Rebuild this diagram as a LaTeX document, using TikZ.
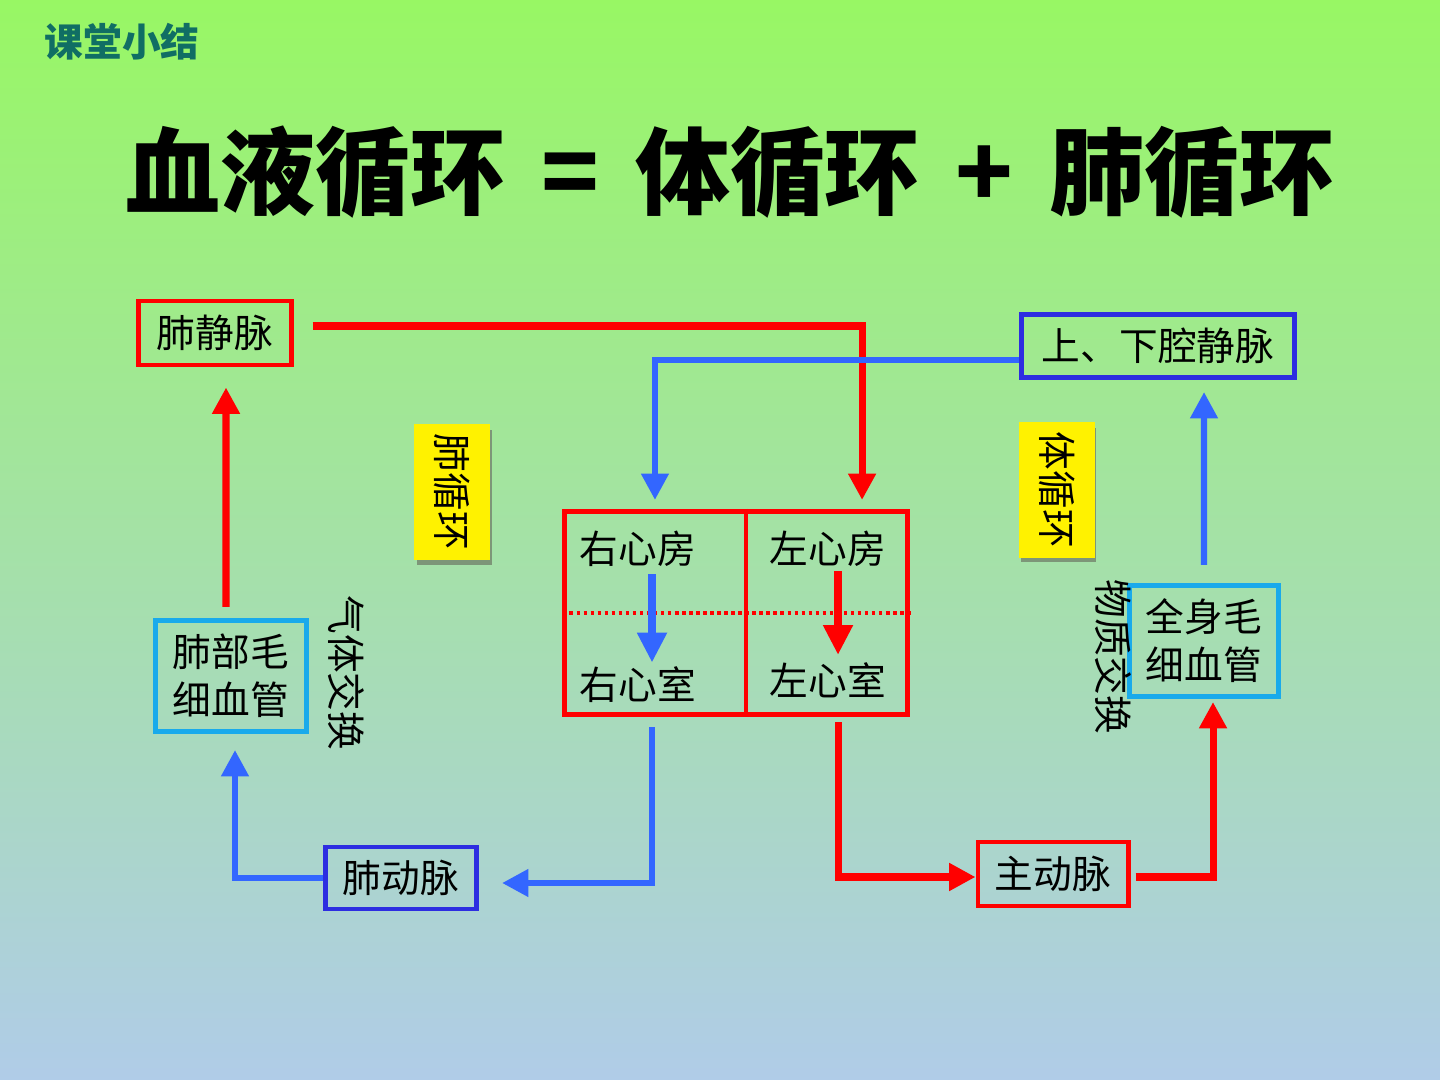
\documentclass[tikz,border=0pt]{standalone}
\usepackage{fontspec}
\newfontfamily\cjk{Noto Sans CJK SC}
\usetikzlibrary{arrows.meta}
\definecolor{bgtop}{RGB}{152,247,100}
\definecolor{bgbot}{RGB}{176,204,232}
\definecolor{arrred}{RGB}{255,0,0}
\definecolor{arrblue}{RGB}{51,102,255}
\definecolor{boxblue}{RGB}{45,45,225}
\definecolor{boxcyan}{RGB}{25,170,235}
\definecolor{teal}{RGB}{16,110,100}
\definecolor{shadowc}{RGB}{125,150,120}
\tikzset{
  txt/.style={font=\cjk\fontsize{11}{13.6}\selectfont, align=center, text=black},
  boxbase/.style={txt, line width=1.4pt, inner sep=0pt},
  redbox/.style={boxbase, draw=arrred},
  bluebox/.style={boxbase, draw=boxblue},
  cyanbox/.style={boxbase, draw=boxcyan},
  yel/.style={txt, fill=yellow, inner sep=0pt, rotate=-90, minimum width=1.36cm, minimum height=0.75cm},
  redarr/.style={draw=arrred, line width=2pt, -{Triangle[width=7.5pt,length=7.5pt]}},
  bluearr/.style={draw=arrblue, line width=1.8pt, -{Triangle[width=7.5pt,length=7.5pt]}},
  bigtip/.style={line width=2.4pt, -{Triangle[width=8pt,length=8.5pt]}},
  vtext/.style={txt, rotate=-90, inner sep=0pt},
}
\begin{document}
\begin{tikzpicture}[x=0.01cm, y=-0.01cm]
\useasboundingbox (0,0) rectangle (1440,1080);
\shade[top color=bgtop, bottom color=bgbot] (0,0) rectangle (1440,1080);

\node[font=\cjk\bfseries\fontsize{11}{13}\selectfont, text=teal] (head) at (122,42) {课堂小结};
\node[font=\cjk\bfseries\fontsize{27}{30}\selectfont, text=black] (title) at (730,172)
  {血液循环\hspace{0.38em}=\hspace{0.38em}体循环\hspace{0.38em}+\hspace{0.38em}肺循环};

% boxes
\node[redbox, minimum width=1.52cm, minimum height=0.64cm] (fjm) at (215,333) {肺静脉};
\node[bluebox, minimum width=2.73cm, minimum height=0.63cm] (qj) at (1158,346) {上、下腔静脉};
\node[cyanbox, minimum width=1.50cm, minimum height=1.11cm] (fmx) at (231,676) {肺部毛\\细血管};
\node[cyanbox, minimum width=1.49cm, minimum height=1.11cm] (qmx) at (1204,641) {全身毛\\细血管};
\node[bluebox, minimum width=1.51cm, minimum height=0.62cm] (fdm) at (401,878) {肺动脉};
\node[redbox, minimum width=1.50cm, minimum height=0.64cm] (zdm) at (1053,874) {主动脉};

% heart
\node[draw=arrred, line width=1.4pt, minimum width=3.42cm, minimum height=2.03cm, inner sep=0pt] (heart) at (736,613) {};
\draw[arrred, line width=1.4pt] ([xshift=0.1cm]heart.north) -- ([xshift=0.1cm]heart.south);
\draw[arrred, line width=1.2pt, dash pattern=on 1pt off 1pt] (heart.west) -- ([xshift=0.03cm]heart.east);
\node[txt] (yxf) at (638,549) {右心房};
\node[txt] (zxf) at (828,549) {左心房};
\node[txt] (yxs) at (638,685) {右心室};
\node[txt] (zxs) at (828,680) {左心室};

% yellow labels
\fill[shadowc] (417,430) rectangle (492,565);
\node[yel] (lblf) at (452,492) {肺循环};
\fill[shadowc] (1021,428) rectangle (1096,562);
\node[yel] (lblt) at (1057,490) {体循环};

\node[vtext] (gas) at (346,673) {气体交换};
\node[vtext] (sub) at (1113,657) {物质交换};

% connectors
\draw[redarr] ([xshift=0.19cm,yshift=0.07cm]fjm.east) -| ([xshift=1.26cm,yshift=0.09cm]heart.north);
\draw[bluearr] ([yshift=-0.14cm]qj.west) -| ([xshift=-0.81cm,yshift=0.09cm]heart.north);
\draw[bluearr, bigtip] ([xshift=0.14cm,yshift=0.05cm]yxf.south) -- ([xshift=0.14cm,yshift=-0.08cm]yxs.north);
\draw[redarr, bigtip] ([xshift=0.10cm,yshift=0.08cm]zxf.south) -- ([xshift=0.10cm,yshift=-0.05cm]zxs.north);
\draw[bluearr] ([xshift=-0.84cm,yshift=-0.1cm]heart.south) |- ([xshift=0.23cm,yshift=-0.05cm]fdm.east);
\draw[bluearr] (fdm.west) -| ([xshift=0.04cm,yshift=-0.16cm]fmx.south);
\draw[redarr] ([xshift=-0.05cm,yshift=0.11cm]fmx.north) -- ([xshift=0.11cm,yshift=-0.2cm]fjm.south);
\draw[redarr] ([xshift=1.02cm,yshift=-0.05cm]heart.south) |- ([yshift=-0.03cm]zdm.west);
\draw[redarr] ([xshift=0.05cm,yshift=-0.03cm]zdm.east) -| ([xshift=0.09cm,yshift=-0.03cm]qmx.south);
\draw[bluearr] ([yshift=0.18cm]qmx.north) -- ([xshift=0.46cm,yshift=-0.12cm]qj.south);
\end{tikzpicture}
\end{document}
